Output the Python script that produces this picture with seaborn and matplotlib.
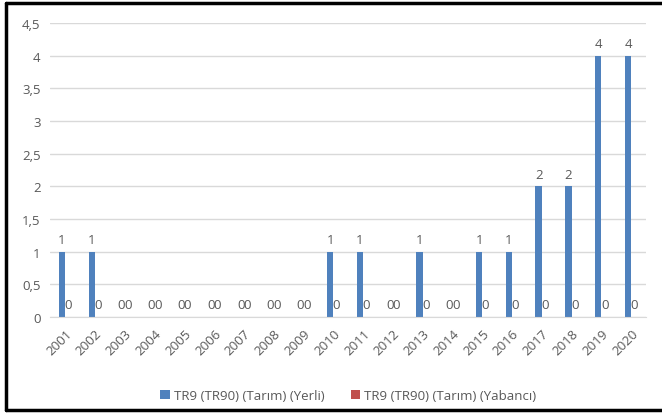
import matplotlib
matplotlib.use("Agg")
import matplotlib.pyplot as plt
from matplotlib.ticker import FuncFormatter, MultipleLocator
from matplotlib.lines import Line2D
import pandas as pd
import seaborn as sns

# veriler
yillar = [str(y) for y in range(2001, 2021)]
yerli = [1, 1, 0, 0, 0, 0, 0, 0, 0, 1, 1, 0, 1, 0, 1, 1, 2, 2, 4, 4]
yabanci = [0] * 20
seri_adlari = ["TR9 (TR90) (Tarım) (Yerli)", "TR9 (TR90) (Tarım) (Yabancı)"]
renkler = ["#4f81bd", "#c0504d"]

df = pd.DataFrame({
    "Yil": yillar * 2,
    "Deger": yerli + yabanci,
    "Seri": [seri_adlari[0]] * len(yillar) + [seri_adlari[1]] * len(yillar),
})

sns.set_style("white")
plt.rcParams["font.family"] = ["Open Sans", "DejaVu Sans"]
gri = "#595959"

fig = plt.figure(figsize=(6.62, 4.14), dpi=100)
ax = fig.add_axes([0.076, 0.232, 0.900, 0.710])

sns.barplot(data=df, x="Yil", y="Deger", hue="Seri", palette=renkler,
            width=0.43, linewidth=0, saturation=1, ax=ax, legend=True)

for kap in ax.containers:
    ax.bar_label(kap, fmt="%g", padding=4, fontsize=9.5, color=gri)

ax.set_ylim(0, 4.5)
ax.yaxis.set_major_locator(MultipleLocator(0.5))
ax.yaxis.set_major_formatter(FuncFormatter(lambda v, p: f"{v:g}".replace(".", ",")))
ax.grid(axis="y", color="#d9d9d9", linewidth=1)
ax.set_axisbelow(True)
for s in ["top", "right", "left"]:
    ax.spines[s].set_visible(False)
ax.spines["bottom"].set_color("#d9d9d9")
ax.tick_params(axis="both", length=0, labelsize=9.5, colors=gri, pad=7)
plt.setp(ax.get_xticklabels(), rotation=45, ha="right", rotation_mode="anchor")
ax.set_xlabel("")
ax.set_ylabel("")

ax.legend(loc="upper center", bbox_to_anchor=(0.5, -0.205), ncol=2, frameon=False,
          fontsize=9.5, labelcolor=gri, handlelength=0.7, handleheight=0.7,
          handletextpad=0.3, columnspacing=2.0)

# cerceve (sag kenar kesik)
for xs, ys in [([0.009, 1.0], [0.990, 0.990]), ([0.009, 1.0], [0.007, 0.007]),
               ([0.009, 0.009], [0.007, 0.990])]:
    fig.add_artist(Line2D(xs, ys, color="black", linewidth=2.5,
                          transform=fig.transFigure))

fig.savefig("out.png", dpi=100)
